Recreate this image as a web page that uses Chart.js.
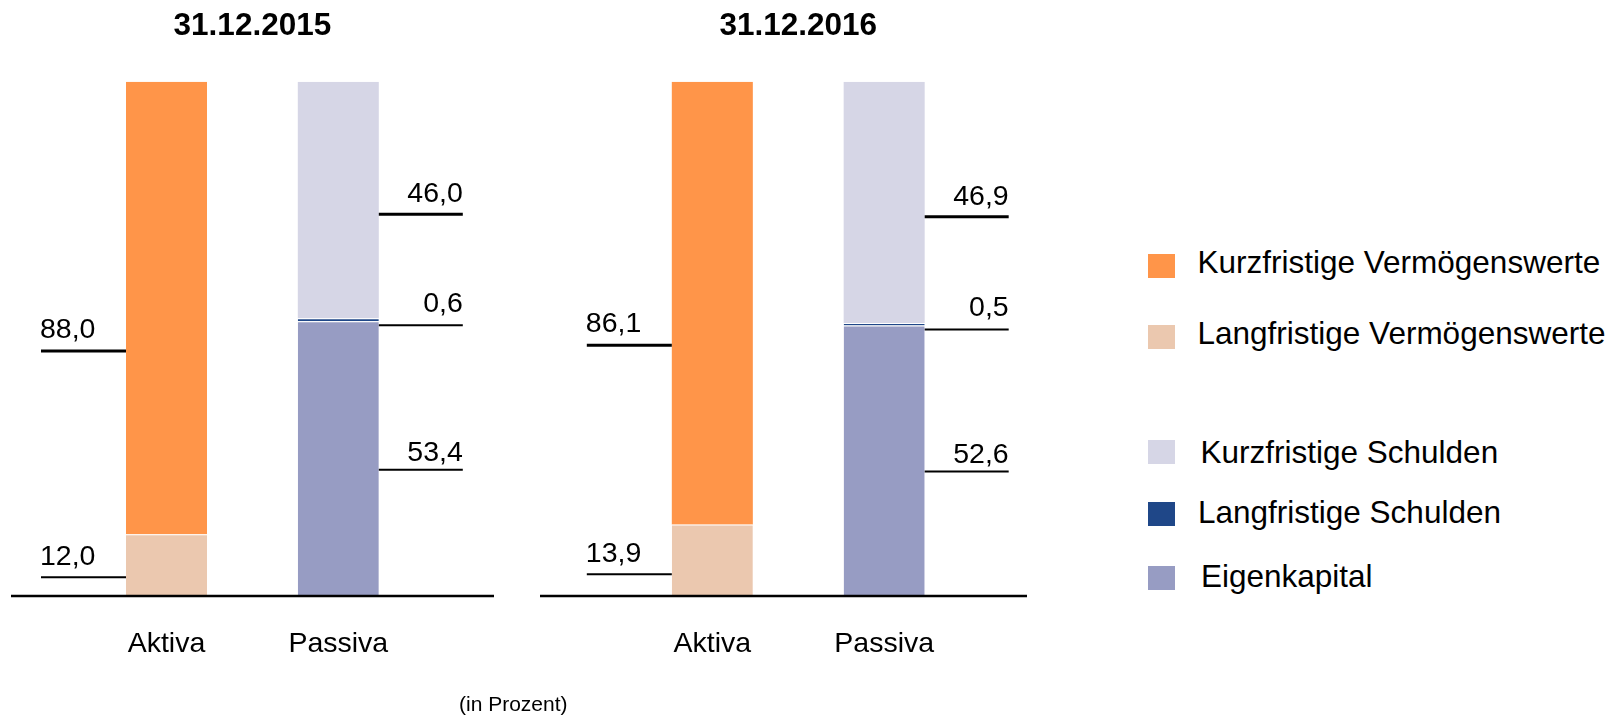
<!DOCTYPE html>
<html lang="de">
<head>
<meta charset="utf-8">
<title>Bilanzstruktur 2015 / 2016</title>
<script src="https://cdn.jsdelivr.net/npm/chart.js@4.4.1/dist/chart.umd.min.js"></script>
<style>
  html, body { margin: 0; padding: 0; background: #fff; }
  body { width: 1616px; height: 716px; position: relative; overflow: hidden;
         font-family: "Liberation Sans", Arial, sans-serif; color: #000; }
  canvas { position: absolute; top: 0; }
  #c2015 { left: 0; }
  #c2016 { left: 520px; }
  .legend-box { position: absolute; left: 1148px; width: 27px; height: 24px; }
  .legend-text { position: absolute; font-size: 31.5px; line-height: 31.5px; white-space: nowrap; }
  #unit { position: absolute; left: 459px; top: 693px; font-size: 21px; line-height: 21px; white-space: nowrap; }
</style>
</head>
<body>
<canvas id="c2015" width="520" height="716"></canvas>
<canvas id="c2016" width="530" height="716"></canvas>
<div id="legend"></div>
<div id="unit">(in Prozent)</div>
<script>
// --- data ---
const dates = ['31.12.2015', '31.12.2016'];
const categories = ['Aktiva', 'Passiva'];

// Aktiva (in %)
const kurzfristigeVermoegenswerte = [88.0, 86.1];
const langfristigeVermoegenswerte = [12.0, 13.9];
// Passiva (in %)
const kurzfristigeSchulden = [46.0, 46.9];
const langfristigeSchulden = [0.6, 0.5];
const eigenkapital = [53.4, 52.6];

// stack order bottom -> top, side: 0 = Aktiva, 1 = Passiva
const series = [
  { name: 'Langfristige Vermögenswerte', values: langfristigeVermoegenswerte, side: 0, color: '#EBC8AF', top: 1,
    leader: { frac: 0.305, width: 2, gap: 12 } },
  { name: 'Kurzfristige Vermögenswerte', values: kurzfristigeVermoegenswerte, side: 0, color: '#FF9549', top: 0,
    leader: { frac: 0.405, width: 3, gap: 13 } },
  { name: 'Eigenkapital', values: eigenkapital, side: 1, color: '#979CC3', top: 1,
    leader: { frac: 0.46, width: 2, gap: 9 } },
  { name: 'Langfristige Schulden', values: langfristigeSchulden, side: 1, color: '#1F4788', top: 1,
    leader: { frac: 0, dy: 4, width: 2, gap: 13 } },
  { name: 'Kurzfristige Schulden', values: kurzfristigeSchulden, side: 1, color: '#D6D6E6', top: 0,
    leader: { frac: 0.44, width: 3, gap: 12 } }
];

const FONT = '"Liberation Sans", Arial, sans-serif';
Chart.defaults.font.family = FONT;
Chart.defaults.color = '#000';

// leader lines with value labels + long base line
const leaderPlugin = {
  id: 'leaders',
  afterDatasetsDraw(chart, args, opts) {
    const ctx = chart.ctx;
    const area = chart.chartArea;
    const y0 = chart.scales.y.getPixelForValue(0);
    ctx.save();
    ctx.strokeStyle = '#000';
    ctx.fillStyle = '#000';
    ctx.lineWidth = 2.5;
    ctx.beginPath();
    ctx.moveTo(area.left - opts.extendLeft, y0);
    ctx.lineTo(area.right + opts.extendRight, y0);
    ctx.stroke();

    ctx.font = '28.5px ' + FONT;
    ctx.textBaseline = 'alphabetic';
    chart.data.datasets.forEach((ds, di) => {
      const meta = chart.getDatasetMeta(di);
      meta.data.forEach((bar, i) => {
        const v = ds.data[i];
        if (v === null || v === undefined) return;
        const p = bar.getProps(['x', 'y', 'base', 'width'], true);
        const cfg = ds.leader;
        const ly = p.base - cfg.frac * (p.base - p.y) + (cfg.dy || 0);
        let x1, x2;
        if (i === 0) { x2 = p.x - p.width / 2; x1 = x2 - 85; }
        else { x1 = p.x + p.width / 2; x2 = x1 + 84; }
        ctx.lineWidth = cfg.width;
        ctx.beginPath();
        ctx.moveTo(x1, ly);
        ctx.lineTo(x2, ly);
        ctx.stroke();
        const txt = v.toFixed(1).replace('.', ',');
        if (i === 0) { ctx.textAlign = 'left'; ctx.fillText(txt, x1 - 1, ly - cfg.gap); }
        else { ctx.textAlign = 'right'; ctx.fillText(txt, x2, ly - cfg.gap); }
      });
    });
    ctx.restore();
  }
};

function buildChart(canvasId, yearIndex, pad, ext) {
  const datasets = series.map(s => ({
    label: s.name,
    data: categories.map((c, i) => (i === s.side ? s.values[yearIndex] : null)),
    backgroundColor: s.color,
    borderColor: '#ffffff',
    borderWidth: { top: s.top, right: 0, bottom: 0, left: 0 },
    borderSkipped: false,
    barPercentage: 0.4715,
    categoryPercentage: 1,
    leader: s.leader
  }));

  return new Chart(document.getElementById(canvasId).getContext('2d'), {
    type: 'bar',
    data: { labels: categories, datasets: datasets },
    options: {
      responsive: false,
      animation: false,
      events: [],
      layout: { padding: { left: pad.left, right: pad.right, top: 0, bottom: 0 } },
      scales: {
        x: {
          stacked: true,
          grid: { display: false, drawTicks: false },
          border: { display: false },
          ticks: { font: { size: 28.5 }, color: '#000', padding: 31 },
          afterFit(scale) { scale.height = 120; }
        },
        y: { stacked: true, display: false, min: 0, max: 100 }
      },
      plugins: {
        legend: { display: false },
        tooltip: { enabled: false },
        title: {
          display: true,
          text: dates[yearIndex],
          color: '#000',
          font: { size: 31.5, weight: 'bold' },
          padding: { top: 7.3, bottom: 36.6 }
        },
        leaders: { extendLeft: ext.left, extendRight: ext.right }
      }
    },
    plugins: [leaderPlugin]
  });
}

const chart2015 = buildChart('c2015', 0, { left: 80.6, right: 95.8 }, { left: 69.6, right: 69.8 });
const chart2016 = buildChart('c2016', 1, { left: 106.4, right: 79.9 }, { left: 86.4, right: 56.9 });

// legend (HTML, same colours as the datasets)
const legendOrder = ['Kurzfristige Vermögenswerte', 'Langfristige Vermögenswerte',
                     'Kurzfristige Schulden', 'Langfristige Schulden', 'Eigenkapital'];
const legendRows = [
  { boxTop: 253.5, textX: 1197.5, baseline: 273.3 },
  { boxTop: 324.5, textX: 1197.5, baseline: 345 },
  { boxTop: 439.5, textX: 1200.5, baseline: 463.5 },
  { boxTop: 502, textX: 1198, baseline: 524 },
  { boxTop: 565.5, textX: 1201, baseline: 587.5 }
];
const legendEl = document.getElementById('legend');
legendOrder.forEach((name, i) => {
  const s = series.find(x => x.name === name);
  const row = legendRows[i];
  const box = document.createElement('div');
  box.className = 'legend-box';
  box.style.top = row.boxTop + 'px';
  box.style.background = s.color;
  legendEl.appendChild(box);
  const txt = document.createElement('div');
  txt.className = 'legend-text';
  txt.style.left = row.textX + 'px';
  txt.style.top = (row.baseline - 26.7) + 'px';
  txt.textContent = name;
  legendEl.appendChild(txt);
});
</script>
</body>
</html>
